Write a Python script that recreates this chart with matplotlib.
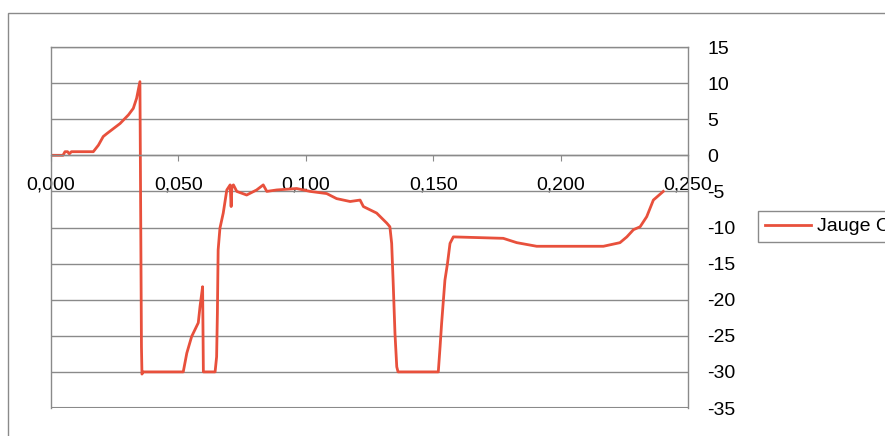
import matplotlib
matplotlib.use('Agg')
from matplotlib import pyplot as plt
from matplotlib.patches import Rectangle
from matplotlib.ticker import FuncFormatter

plt.rcParams['font.family'] = ['Liberation Sans', 'DejaVu Sans']
plt.rcParams['axes.unicode_minus'] = False

# temps (s) et valeurs
temps = [0, 0.0047, 0.0055, 0.0065, 0.0072, 0.0080, 0.0166, 0.0186, 0.0205, 0.0219,
         0.0271, 0.0304, 0.0323, 0.0336, 0.0349, 0.0355, 0.0357, 0.0362, 0.0519, 0.0533,
         0.0552, 0.0578, 0.0585, 0.0595, 0.0598, 0.0644, 0.0650, 0.0653, 0.0656, 0.0663,
         0.0676, 0.0690, 0.0703, 0.0707, 0.0710, 0.0716, 0.0729, 0.0768, 0.0807, 0.0833,
         0.0847, 0.0886, 0.0964, 0.1017, 0.1082, 0.1121, 0.1174, 0.1213, 0.1226, 0.1278,
         0.1318, 0.1330, 0.1337, 0.1343, 0.1350, 0.1357, 0.1362, 0.1520, 0.1527, 0.1533,
         0.1546, 0.1556, 0.1566, 0.1579, 0.1775, 0.1828, 0.1906, 0.2168, 0.2233, 0.2260,
         0.2286, 0.2312, 0.2338, 0.2364, 0.2403]
jauge_c = [0, 0, 0.5, 0.5, 0.2, 0.5, 0.5, 1.4, 2.6, 3.0,
           4.4, 5.6, 6.5, 7.9, 10.2, -26.5, -30.3, -30, -30, -27.4,
           -25.1, -23.2, -20.9, -18.2, -30, -30, -27.9, -21.9, -13.1, -10.1,
           -8.0, -4.8, -4.1, -7.1, -4.3, -4.1, -5.0, -5.5, -4.8, -4.1,
           -5.0, -4.8, -4.6, -5.0, -5.3, -6.0, -6.4, -6.2, -7.1, -8.0,
           -9.4, -9.9, -12.2, -17.7, -24.7, -29.3, -30, -30, -26.5, -23.3,
           -17.3, -15.0, -12.2, -11.3, -11.5, -12.1, -12.6, -12.6, -12.1, -11.3,
           -10.3, -9.9, -8.5, -6.2, -5.0]

x_ticks = [0, 0.05, 0.10, 0.15, 0.20, 0.25]
y_ticks = [-35, -30, -25, -20, -15, -10, -5, 0, 5, 10, 15]

gris = '#8a8a8a'

fig = plt.figure(figsize=(8.85, 4.36), dpi=100)
# cadre du graphique (coupe a droite et en bas)
fig.patches.append(Rectangle((8 / 885, -0.2), 1.2, 1.2 - 13 / 436, transform=fig.transFigure,
                             fill=False, edgecolor=gris, lw=1))

ax = fig.add_axes([51 / 885, 1 - 408 / 436, 637 / 885, 361 / 436])
ax.plot(temps, jauge_c, color='#e8503c', lw=2, label='Jauge C')

ax.set_xlim(0, 0.25)
ax.set_ylim(-35, 15)
ax.set_xticks(x_ticks)
ax.set_yticks(y_ticks)
ax.xaxis.set_major_formatter(FuncFormatter(lambda v, p: ('%.3f' % v).replace('.', ',')))
ax.yaxis.set_major_formatter(FuncFormatter(lambda v, p: '%d' % v))

ax.yaxis.tick_right()
ax.tick_params(axis='y', length=0, pad=14, labelsize=14)
ax.tick_params(axis='x', direction='out', length=4, color=gris, pad=11, labelsize=14)
ax.grid(axis='y', color=gris, lw=1)
ax.set_axisbelow(True)

for s in ax.spines.values():
    s.set_color(gris)
    s.set_linewidth(1)
ax.spines['bottom'].set_position(('data', 0))
# bordure basse de la zone de trace
ax.axhline(-35, color=gris, lw=1.5)

leg = fig.legend(loc='center left', bbox_to_anchor=(758 / 885, 1 - 226.5 / 436), fontsize=14,
                 fancybox=False, edgecolor=gris, framealpha=1, borderpad=0.35,
                 handlelength=2.4, handletextpad=0.3, borderaxespad=0)
leg.get_frame().set_linewidth(1)

fig.savefig('out.png', dpi=100)
